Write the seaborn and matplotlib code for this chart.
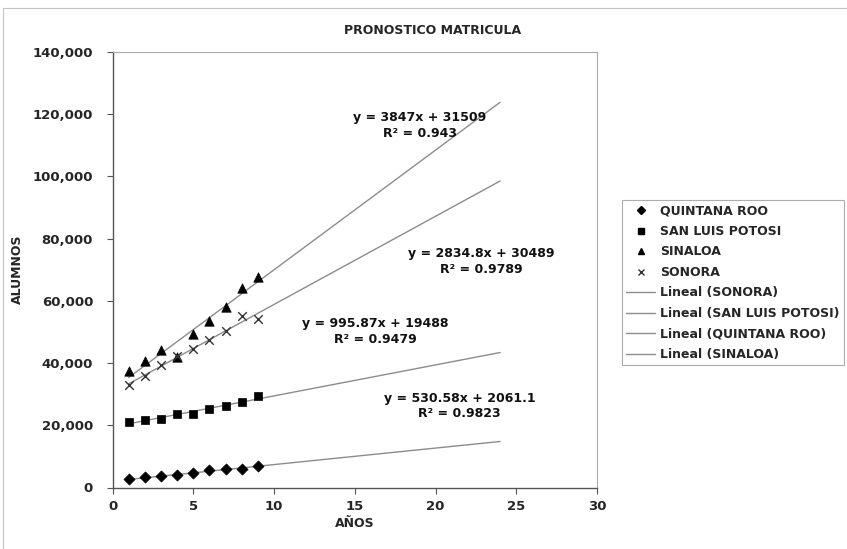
import matplotlib
matplotlib.use("Agg")
import matplotlib.pyplot as plt
from matplotlib.lines import Line2D
from matplotlib.ticker import FuncFormatter
import pandas as pd
import seaborn as sns

# Enrollment per year for each state
anios = [1, 2, 3, 4, 5, 6, 7, 8, 9]
quintana_roo = [2740, 3280, 3610, 3930, 4570, 5640, 5960, 5960, 6830]
san_luis_potosi = [21170, 21670, 22070, 23550, 23630, 25200, 26140, 27500, 29290]
sinaloa = [37310, 40740, 44170, 41900, 49190, 53680, 57880, 64200, 67630]
sonora = [32860, 35740, 39490, 42280, 44650, 47340, 50230, 55270, 54100]

estados = ["QUINTANA ROO", "SAN LUIS POTOSI", "SINALOA", "SONORA"]

# Linear trend coefficients (slope, intercept, R²) per state
pendientes = [530.58, 995.87, 3847, 2834.8]
ordenadas = [2061.1, 19488, 31509, 30489]
r2 = [0.9823, 0.9479, 0.943, 0.9789]
etiquetas_eq = ["y = 530.58x + 2061.1", "y = 995.87x + 19488",
                "y = 3847x + 31509", "y = 2834.8x + 30489"]
etiquetas_r2 = ["R² = 0.9823", "R² = 0.9479", "R² = 0.943", "R² = 0.9789"]
pronostico_hasta = 24

df = pd.DataFrame({
    "AÑOS": anios * 4,
    "ALUMNOS": quintana_roo + san_luis_potosi + sinaloa + sonora,
    "ESTADO": [e for e in estados for _ in anios],
})

sns.set_style("white")
plt.rcParams["font.family"] = ["DejaVu Sans"]

W, H = 847, 549
fig = plt.figure(figsize=(W / 100, H / 100), dpi=100)
ax = fig.add_axes([112.5 / W, 1 - 487.5 / H, 484.5 / W, 435.5 / H])

marcadores = {"QUINTANA ROO": "D", "SAN LUIS POTOSI": "s", "SINALOA": "^", "SONORA": "x"}
tamanos = {"QUINTANA ROO": 32, "SAN LUIS POTOSI": 36, "SINALOA": 46, "SONORA": 38}

# Trend lines from the fitted equations, projected forward
for e, m, b in zip(estados, pendientes, ordenadas):
    xs = [1, pronostico_hasta]
    tendencia = pd.DataFrame({"x": xs, "y": [m * x + b for x in xs]})
    sns.lineplot(data=tendencia, x="x", y="y", ax=ax, color="#8c8c8c", lw=1.0, zorder=2)

for e in estados:
    sub = df[df["ESTADO"] == e]
    if marcadores[e] == "x":
        sns.scatterplot(data=sub, x="AÑOS", y="ALUMNOS", marker="x", color="#333333",
                        s=tamanos[e], linewidth=1.0, ax=ax, zorder=3)
    else:
        sns.scatterplot(data=sub, x="AÑOS", y="ALUMNOS", marker=marcadores[e], color="black",
                        edgecolor="black", s=tamanos[e], linewidth=0.5, ax=ax, zorder=3)

# Equation labels
pos_eq = [(21.49, 26240), (16.30, 50070), (19.02, 116400), (22.85, 72600)]
for (x, y), t1, t2 in zip(pos_eq, etiquetas_eq, etiquetas_r2):
    ax.text(x, y, t1 + "\n" + t2, ha="center", va="center", multialignment="center",
            fontsize=9, fontweight="bold", color="#111111", linespacing=1.25)

ax.set_xlim(0, 30)
ax.set_ylim(0, 140000)
ax.set_xticks([0, 5, 10, 15, 20, 25, 30])
ax.set_yticks(range(0, 140001, 20000))
ax.yaxis.set_major_formatter(FuncFormatter(lambda v, p: f"{v:,.0f}"))
ax.tick_params(axis="both", which="major", bottom=True, left=True, direction="out",
               length=4, width=0.8, color="#555555", labelsize=9.5)
ax.tick_params(axis="y", pad=10)
ax.tick_params(axis="x", pad=5)
for lab in ax.get_xticklabels() + ax.get_yticklabels():
    lab.set_fontweight("bold")

ax.set_xlabel("AÑOS", fontsize=9, fontweight="bold", labelpad=3)
ax.set_ylabel("ALUMNOS", fontsize=9, fontweight="bold", labelpad=6)

for s in ["left", "bottom"]:
    ax.spines[s].set_color("#555555")
    ax.spines[s].set_linewidth(1.0)
for s in ["top", "right"]:
    ax.spines[s].set_color("#aaaaaa")
    ax.spines[s].set_linewidth(0.8)

fig.text(433 / W, 1 - 30 / H, "PRONOSTICO MATRICULA", ha="center", va="center",
         fontsize=9, fontweight="bold")

# Legend: markers for data, lines for trends
handles = [
    Line2D([], [], ls="none", marker="D", color="black", markersize=4),
    Line2D([], [], ls="none", marker="s", color="black", markersize=4.5),
    Line2D([], [], ls="none", marker="^", color="black", markersize=4.5),
    Line2D([], [], ls="none", marker="x", color="#333333", markersize=4.5, mew=1),
    Line2D([], [], color="#8c8c8c", lw=1),
    Line2D([], [], color="#8c8c8c", lw=1),
    Line2D([], [], color="#8c8c8c", lw=1),
    Line2D([], [], color="#8c8c8c", lw=1),
]
labels = ["QUINTANA ROO", "SAN LUIS POTOSI", "SINALOA", "SONORA",
          "Lineal (SONORA)", "Lineal (SAN LUIS POTOSI)",
          "Lineal (QUINTANA ROO)", "Lineal (SINALOA)"]
leg = fig.legend(handles, labels, loc="upper left",
                 bbox_to_anchor=(622 / W, 1 - 200 / H), bbox_transform=fig.transFigure,
                 frameon=True, fancybox=False, edgecolor="#999999",
                 prop={"weight": "bold", "size": 9}, handlelength=2.3, handletextpad=0.4,
                 labelspacing=0.6, borderpad=0.35, borderaxespad=0)
leg.get_frame().set_linewidth(0.8)

# Outer chart border
fig.add_artist(Line2D([3 / W, 3 / W], [0, 1 - 8 / H], transform=fig.transFigure,
                      color="#c4c4c4", lw=0.8))
fig.add_artist(Line2D([3 / W, 1], [1 - 8 / H, 1 - 8 / H], transform=fig.transFigure,
                      color="#c4c4c4", lw=0.8))

fig.savefig("out.png", dpi=100, facecolor="white")
